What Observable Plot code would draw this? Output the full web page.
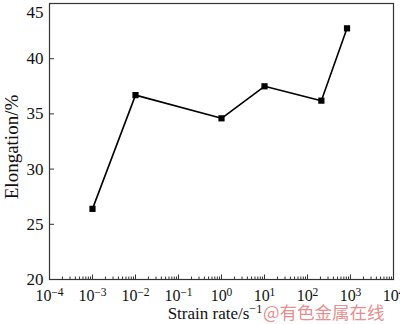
<!DOCTYPE html>
<html><head><meta charset="utf-8">
<script src="https://cdn.jsdelivr.net/npm/d3@7"></script>
<script src="https://cdn.jsdelivr.net/npm/@observablehq/plot@0.6"></script>
<style>body{margin:0;background:#fff}</style></head>
<body><div id="c"></div>
<script>
const strainRate = [1e-3, 1e-2, 1, 10, 210, 830];
const elongation = [26.4, 36.7, 34.6, 37.5, 36.2, 42.75];
const xExponents = [-4, -3, -2, -1, 0, 1, 2, 3, 4];
const yTicks = [20, 25, 30, 35, 40, 45];
const xLabel = "Strain rate/s";
const xLabelSup = "-1";
const yLabel = "Elongation/%";
const watermark = "@有色金属在线";

const data = strainRate.map((x, i) => ({x, y: elongation[i]}));
const xMajor = xExponents.map(e => 10 ** e);
const xMinor = [];
for (let e = -4; e < 4; e++) for (let m = 2; m < 10; m++) xMinor.push(m * 10 ** e);

const serif = "'Liberation Serif', 'Times New Roman', serif";
const W = 400, H = 324, mL = 49, mR = 7, mT = 3, mB = 45;
const plot = Plot.plot({
  width: W, height: H, marginLeft: mL, marginRight: mR, marginTop: mT, marginBottom: mB,
  style: {fontFamily: serif, fontSize: "16px", color: "#111", background: "#fff", overflow: "visible"},
  x: {type: "log", domain: [1e-4, 1e4]},
  y: {domain: [20, 45]},
  marks: [
    Plot.axisX({ticks: xMinor, tickSize: -2.5, text: null, label: null, stroke: "#333"}),
    Plot.axisX({ticks: xMajor, tickSize: -4.5, tickPadding: 15, label: null, stroke: "#333",
      fontFamily: serif, fontSize: 16, tickFormat: d => "10E" + Math.round(Math.log10(d))}),
    Plot.axisY({ticks: yTicks, tickSize: -5, tickPadding: 11, label: null, stroke: "#333",
      fontFamily: serif, fontSize: 17}),
    Plot.frame({stroke: "#333", strokeWidth: 1.2}),
    Plot.line(data, {x: "x", y: "y", stroke: "#000", strokeWidth: 1.6}),
    Plot.dot(data, {x: "x", y: "y", symbol: "square", fill: "#000", stroke: "none", r: 3.5})
  ]
});
document.getElementById("c").appendChild(plot);

const svg = d3.select(plot);
svg.selectAll("text").each(function () {
  const t = d3.select(this);
  const s = t.text();
  t.attr("font-family", serif).attr("fill", "#111");
  if (s === String(yTicks[yTicks.length - 1])) t.attr("dy", "0.56em");
  const m = s.match(/^10E(.+)$/);
  if (!m) return;
  const e = m[1].replace("-", "\u2212");
  t.text("10");
  t.append("tspan").attr("dy", "-0.45em").attr("font-size", "0.72em").text(e);
});

svg.append("text")
  .attr("x", 215).attr("y", 319)
  .attr("text-anchor", "middle")
  .attr("font-family", serif).attr("font-size", 17).attr("fill", "#111")
  .call(t => {
    t.append("tspan").text(xLabel);
    t.append("tspan").attr("dy", "-0.45em").attr("font-size", "0.72em").text(xLabelSup.replace("-", "\u2212"));
  });

svg.append("text")
  .attr("transform", "translate(18,147) rotate(-90)")
  .attr("text-anchor", "middle")
  .attr("font-family", serif).attr("font-size", 19).attr("fill", "#111")
  .text(yLabel);

svg.append("text")
  .attr("x", 263).attr("y", 319)
  .attr("text-anchor", "start")
  .attr("font-family", "'Noto Sans CJK SC', sans-serif").attr("font-size", 17.5)
  .attr("fill", "#e07070").attr("fill-opacity", 0.8)
  .text(watermark);
</script>
</body></html>
